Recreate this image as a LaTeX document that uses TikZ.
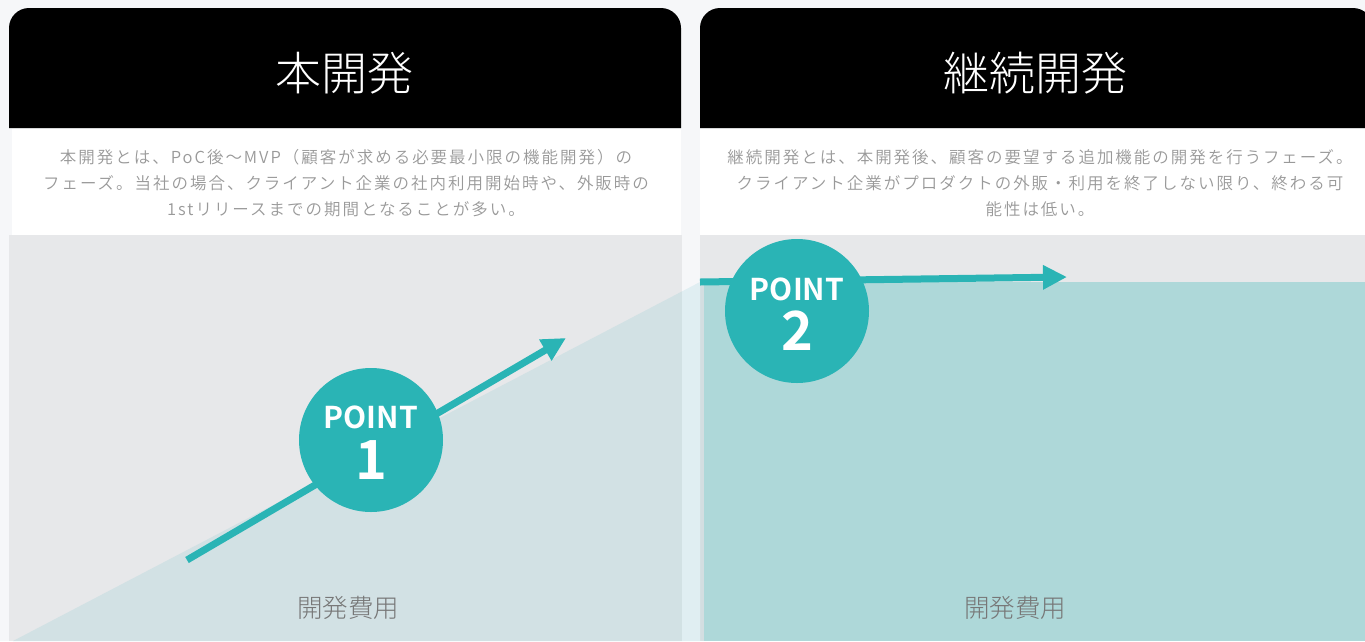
\documentclass[tikz,border=0pt]{standalone}
\usepackage{fontspec}
\setmainfont{Noto Sans CJK JP}
\newfontfamily\jplight{Noto Sans CJK JP Light}
\newfontfamily\jpdesc{Noto Sans CJK JP DemiLight}[LetterSpace=12]
\newfontfamily\jpbold{Noto Sans CJK JP Bold}
\usetikzlibrary{arrows.meta}
\definecolor{pagebg}{HTML}{F6F7F9}
\definecolor{panelgray}{HTML}{E7E8EA}
\definecolor{tealc}{HTML}{2AB4B5}
\definecolor{tealfill}{HTML}{AED8D9}
\definecolor{trifill}{HTML}{D2E1E4}
\definecolor{trifilldiv}{HTML}{E0EEF2}
\definecolor{desctext}{HTML}{999999}
\definecolor{costtext}{HTML}{777777}
\definecolor{edgeline}{HTML}{D3DEE1}
\tikzset{
  titletext/.style={text=white, font=\jplight\fontsize{46}{50}\selectfont, inner sep=0pt},
  desctextstyle/.style={text=desctext, align=center, font=\jpdesc\fontsize{16.5}{26}\selectfont, inner sep=0pt},
  costlabel/.style={text=costtext, font=\jplight\fontsize{25.5}{28}\selectfont, inner sep=0pt},
  pointcircle/.style={circle, fill=tealc, minimum size=144pt, inner sep=0pt},
  pointword/.style={text=white, font=\jpbold\fontsize{30}{32}\selectfont, inner sep=0pt},
  pointnum/.style={text=white, font=\jpbold\fontsize{54}{60}\selectfont, inner sep=0pt},
  growarrow/.style={draw=tealc, line width=7pt, -{Triangle[length=24pt,width=23pt]}},
}
\begin{document}
\begin{tikzpicture}[x=1pt,y=-1pt]
\useasboundingbox (0,0) rectangle (1365,641);
\fill[pagebg] (0,0) rectangle (1365,641);
% left panel
\fill[black] (9,128) [rounded corners=20pt] -- (9,8) -- (681,8) [sharp corners] -- (681,128) -- cycle;
\fill[white] (12,129) rectangle (681,235);
\fill[panelgray] (9,235) rectangle (682,641);
% right panel
\fill[black] (700,128) [rounded corners=20pt] -- (700,8) -- (1373,8) [sharp corners] -- (1373,128) -- cycle;
\fill[white] (700,129) rectangle (1365,235);
\fill[panelgray] (700,235) rectangle (1365,641);
\fill[tealfill] (704,282) rectangle (1365,641);
\fill[edgeline] (700,282) rectangle (704,641);
% cost triangle
\begin{scope}
\clip (0,235) rectangle (682,641);
\fill[trifill] (13,641) -- (700,282) -- (700,641) -- cycle;
\end{scope}
\begin{scope}
\clip (682,235) rectangle (700,641);
\fill[trifilldiv] (13,641) -- (700,282) -- (700,641) -- cycle;
\end{scope}
% titles and descriptions
\node[titletext] (t1) at (344,73) {本開発};
\node[titletext] (t2) at (1035,73) {継続開発};
\node[desctextstyle] (d1) at (346,183) {本開発とは、PoC後〜MVP（顧客が求める必要最小限の機能開発）の\\フェーズ。当社の場合、クライアント企業の社内利用開始時や、外販時の\\1stリリースまでの期間となることが多い。};
\node[desctextstyle] (d2) at (1040,183) {継続開発とは、本開発後、顧客の要望する追加機能の開発を行うフェーズ。\\クライアント企業がプロダクトの外販・利用を終了しない限り、終わる可\\能性は低い。};
% arrows
\coordinate (a1s) at (187,560);
\coordinate (a1e) at (566,338);
\coordinate (a2s) at (700,282);
\coordinate (a2e) at (1067,277);
\draw[growarrow] (a1s) -- (a1e);
\draw[growarrow] (a2s) -- (a2e);
% points
\node[pointcircle] (p1) at (371,440) {};
\node[pointword] (p1w) at (371,417) {POINT};
\node[pointnum] (p1n) at (371,460) {1};
\node[pointcircle] (p2) at (797,311) {};
\node[pointword] (p2w) at (797,289) {POINT};
\node[pointnum] (p2n) at (797,331) {2};
% cost labels
\node[costlabel] (c1) at (348,608) {開発費用};
\node[costlabel] (c2) at (1015,608) {開発費用};
\end{tikzpicture}
\end{document}
